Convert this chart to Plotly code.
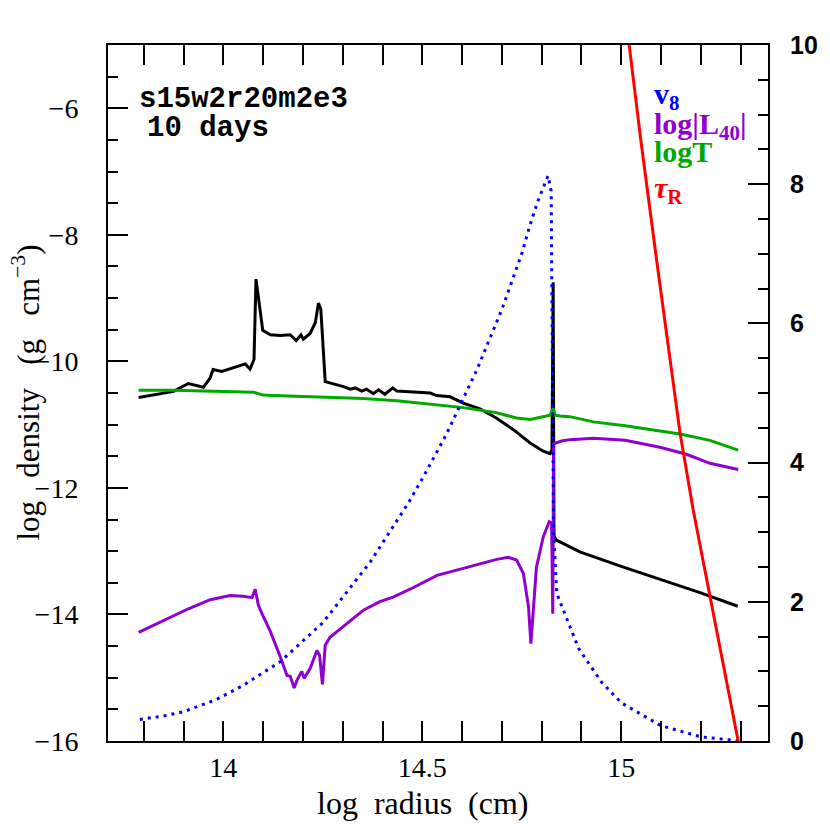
import plotly.graph_objects as go

# ---- data ----
rho_x = [13.787, 13.875, 13.912, 13.95, 13.967, 13.974, 13.996, 14.055, 14.067, 14.077,
         14.082, 14.092, 14.099, 14.118, 14.143, 14.168, 14.183, 14.195, 14.201, 14.218,
         14.231, 14.239, 14.245, 14.256, 14.268, 14.302, 14.319, 14.331, 14.348, 14.36,
         14.377, 14.39, 14.406, 14.426, 14.436, 14.486, 14.52, 14.536, 14.57, 14.603,
         14.645, 14.687, 14.729, 14.771, 14.804, 14.821, 14.826, 14.829, 14.831, 14.836,
         14.896, 15.0, 15.1, 15.2, 15.293]
rho_y = [-10.57, -10.475, -10.35, -10.41, -10.26, -10.13, -10.16, -10.04, -10.12, -9.97,
         -8.70, -9.18, -9.51, -9.58, -9.59, -9.58, -9.67, -9.58, -9.65, -9.56,
         -9.39, -9.08, -9.18, -10.32, -10.34, -10.40, -10.44, -10.42, -10.47, -10.44,
         -10.51, -10.45, -10.52, -10.42, -10.47, -10.49, -10.50, -10.54, -10.56, -10.66,
         -10.75, -10.90, -11.08, -11.29, -11.42, -11.46, -11.40, -8.75, -12.75, -12.82,
         -13.01, -13.24, -13.45, -13.66, -13.87]

logT_x = [13.787, 13.875, 14.076, 14.10, 14.125, 14.268, 14.352, 14.436, 14.52, 14.603,
          14.687, 14.737, 14.771, 14.804, 14.821, 14.829, 14.834, 14.846, 14.871, 14.93,
          15.01, 15.097, 15.148, 15.223, 15.294]
logT_y = [5.04, 5.04, 5.01, 4.97, 4.965, 4.935, 4.92, 4.89, 4.835, 4.79,
          4.715, 4.64, 4.62, 4.66, 4.68, 4.78, 4.68, 4.67, 4.66, 4.585,
          4.53, 4.455, 4.41, 4.32, 4.18]

logL_x = [13.787, 13.85, 13.912, 13.967, 14.017, 14.05, 14.072, 14.08, 14.088, 14.097,
          14.117, 14.143, 14.16, 14.168, 14.178, 14.184, 14.197, 14.203, 14.218, 14.235,
          14.242, 14.249, 14.256, 14.268, 14.31, 14.352, 14.392, 14.428, 14.478, 14.537,
          14.603, 14.645, 14.687, 14.716, 14.737, 14.754, 14.767, 14.773, 14.779, 14.787,
          14.804, 14.819, 14.825, 14.828, 14.830, 14.85, 14.871, 14.93, 15.01, 15.097,
          15.164, 15.223, 15.294]
logL_y = [1.56, 1.735, 1.90, 2.03, 2.09, 2.08, 2.06, 2.18, 1.95, 1.83,
          1.59, 1.21, 0.94, 0.93, 0.76, 0.86, 1.0, 0.90, 1.04, 1.30,
          1.23, 0.815, 1.375, 1.49, 1.69, 1.88, 2.0, 2.07, 2.205, 2.38,
          2.48, 2.54, 2.61, 2.64, 2.60, 2.41, 1.93, 1.40, 1.88, 2.50,
          2.93, 3.15, 3.13, 1.83, 4.27, 4.31, 4.33, 4.35, 4.32, 4.22,
          4.12, 3.99, 3.90]

v8_x = [13.79, 13.85, 13.9, 13.984, 14.05, 14.143, 14.25, 14.369, 14.465, 14.503,
        14.56, 14.637, 14.70, 14.75, 14.77, 14.79, 14.816, 14.824, 14.830, 14.838,
        14.893, 14.95, 15.0, 15.1, 15.2, 15.3]
v8_y = [0.31, 0.36, 0.42, 0.60, 0.80, 1.14, 1.70, 2.57, 3.42, 3.80,
        4.40, 5.33, 6.2, 7.0, 7.4, 7.75, 8.12, 7.9, 3.0, 2.12,
        1.33, 0.85, 0.55, 0.22, 0.06, 0.0]

tau_x = [15.005, 15.02, 15.05, 15.089, 15.148, 15.181, 15.24, 15.294]
tau_y = [10.7, 10.0, 8.6, 6.91, 4.42, 3.32, 1.6, 0.0]

BLUE = "#0000ff"
PURPLE = "#9000d0"
GREEN = "#00a800"
RED = "#ff0000"

fig = go.Figure()
fig.add_trace(go.Scatter(x=rho_x, y=rho_y, mode="lines",
                         line=dict(color="black", width=3), yaxis="y"))
fig.add_trace(go.Scatter(x=logT_x, y=logT_y, mode="lines",
                         line=dict(color=GREEN, width=3), yaxis="y2"))
fig.add_trace(go.Scatter(x=logL_x, y=logL_y, mode="lines",
                         line=dict(color=PURPLE, width=3), yaxis="y2"))
fig.add_trace(go.Scatter(x=v8_x, y=v8_y, mode="lines",
                         line=dict(color=BLUE, width=3, dash="3px,5px"), yaxis="y2"))
fig.add_trace(go.Scatter(x=tau_x, y=tau_y, mode="lines",
                         line=dict(color=RED, width=3), yaxis="y2"))

serif = "Liberation Serif"
tickf = dict(family=serif, size=28, color="black")
titlef = dict(family=serif, size=32, color="black")
sp2 = "\u00a0\u00a0"
sp3 = "\u00a0\u00a0\u00a0"

fig.update_layout(
    width=830, height=830,
    margin=dict(l=100, r=70, t=37, b=97),
    paper_bgcolor="white", plot_bgcolor="white",
    showlegend=False,
    xaxis=dict(range=[13.71, 15.369], tick0=14, dtick=0.5, ticks="inside",
               ticklen=20, tickwidth=2, tickcolor="black", automargin=False,
               minor=dict(dtick=0.1, ticks="inside", ticklen=10, tickwidth=2, tickcolor="black"),
               showline=True, linewidth=2, linecolor="black", mirror="allticks",
               showgrid=False, zeroline=False, tickfont=tickf),
    yaxis=dict(range=[-16, -5], tick0=-16, dtick=2, ticks="inside",
               ticklen=20, tickwidth=2, tickcolor="black", ticklabelstandoff=22,
               automargin=False,
               minor=dict(dtick=0.5, ticks="inside", ticklen=10, tickwidth=2, tickcolor="black"),
               showline=True, linewidth=2, linecolor="black",
               showgrid=False, zeroline=False, tickfont=tickf),
    yaxis2=dict(range=[0, 10], tick0=0, dtick=2, ticks="inside", overlaying="y", side="right",
                ticklen=20, tickwidth=2, tickcolor="black", ticklabelstandoff=15,
                automargin=False,
                minor=dict(dtick=0.5, ticks="inside", ticklen=10, tickwidth=2, tickcolor="black"),
                showline=True, linewidth=2, linecolor="black",
                showgrid=False, zeroline=False,
                tickfont=dict(family="Liberation Sans", size=25, color="black", weight="bold")),
)

# axis titles
fig.add_annotation(x=0.477, y=-0.089, xref="paper", yref="paper",
                   text="log" + sp2 + "radius" + sp2 + "(cm)",
                   showarrow=False, xanchor="center", yanchor="middle", font=titlef)
fig.add_annotation(x=-0.125, y=0.5, xref="paper", yref="paper", textangle=-90,
                   text="log" + sp3 + "density" + sp3 + "(g" + sp3 + "cm<sup>\u22123</sup>)",
                   showarrow=False, xanchor="center", yanchor="middle", borderpad=0,
                   font=dict(family=serif, size=31, color="black"))

mono = dict(family="Liberation Mono", size=29, color="black")
fig.add_annotation(x=0.045, y=0.921, xref="paper", yref="paper", text="<b>s15w2r20m2e3</b>",
                   showarrow=False, xanchor="left", yanchor="middle", borderpad=0, font=mono)
fig.add_annotation(x=0.057, y=0.880, xref="paper", yref="paper", text="<b>10 days</b>",
                   showarrow=False, xanchor="left", yanchor="middle", borderpad=0, font=mono)

labf = lambda c: dict(family=serif, size=30, color=c)
fig.add_annotation(x=0.826, y=0.927, xref="paper", yref="paper", text="<b>v<sub>8</sub></b>",
                   showarrow=False, xanchor="left", yanchor="middle", borderpad=0, font=labf(BLUE))
fig.add_annotation(x=0.826, y=0.884, xref="paper", yref="paper", text="<b>log|L<sub>40</sub>|</b>",
                   showarrow=False, xanchor="left", yanchor="middle", borderpad=0, font=labf(PURPLE))
fig.add_annotation(x=0.826, y=0.847, xref="paper", yref="paper", text="<b>logT</b>",
                   showarrow=False, xanchor="left", yanchor="middle", borderpad=0, font=labf(GREEN))
fig.add_annotation(x=0.826, y=0.791, xref="paper", yref="paper", text="<b><i>τ</i><sub>R</sub></b>",
                   showarrow=False, xanchor="left", yanchor="middle", borderpad=0, font=labf(RED))

fig.write_html("out.html")
